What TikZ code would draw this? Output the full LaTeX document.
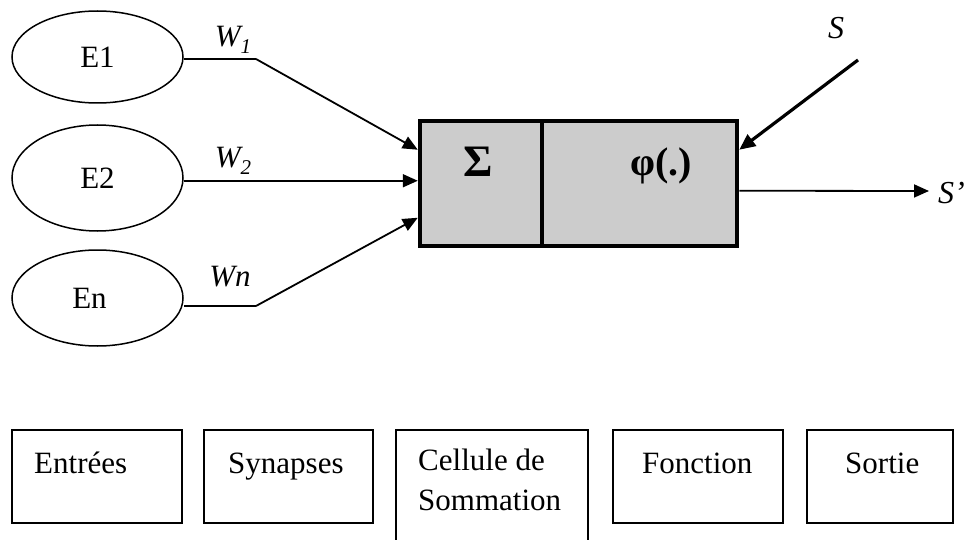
\documentclass[tikz,border=0pt]{standalone}
\usepackage{fontspec}
\setmainfont{Liberation Serif}
\usetikzlibrary{arrows.meta,shapes.geometric,calc}
\begin{document}
\begin{tikzpicture}[x=1pt,y=-1pt,
  inp/.style={draw,line width=1.5pt,ellipse,inner sep=0pt,minimum width=171pt,font=\fontsize{31}{36}\selectfont},
  cell/.style={draw,line width=4.5pt,fill=black!20,inner sep=0pt,minimum height=125pt},
  wire/.style={line width=1.8pt,-{Triangle[length=15pt,width=13pt]}},
  plain/.style={line width=1.8pt},
  heavy/.style={line width=3.2pt,-{Triangle[length=16pt,width=14pt]}},
  wlab/.style={font=\fontsize{31}{36}\selectfont\itshape,inner sep=0pt},
  big/.style={font=\fontsize{40}{46}\selectfont\bfseries,inner sep=0pt},
  legbox/.style={draw,line width=1.5pt,inner sep=0pt,minimum height=93pt},
  legtxt/.style={font=\fontsize{31}{40}\selectfont,inner sep=0pt,anchor=base west,align=left}]
\useasboundingbox (0,0) rectangle (969,540);
% inputs
\node[inp,minimum height=92pt]  (e1) at (97.5,57)  {E1};
\node[inp,minimum height=106pt] (e2) at (97.5,178) {E2};
\node[inp,minimum height=96pt]  (en) at (97.5,298) {\hspace*{-16pt}En};
% neuron cell
\node[cell,minimum width=122pt] (sum) at (481,183.5) {};
\node[cell,minimum width=195pt] (phi) at (639.5,183.5) {};
\node[big,font=\fontsize{45}{50}\selectfont\bfseries] (sigt) at (478,162) {Σ};
\node[big] (phit) at (661,166) {φ(.)};
% connector points
\coordinate (t1) at ($(sum.north west)+(0,31)$);
\coordinate (t2) at ($(sum.north west)+(0,62)$);
\coordinate (t3) at ($(sum.north west)+(0,99)$);
\coordinate (b1) at (256,59);
\coordinate (b3) at (256,306);
\coordinate (s0) at (858,60);
\coordinate (so) at (929,191);
\coordinate (pe) at ($(phi.north east)+(0,72)$);
% connectors
\draw[plain] (e1.east |- b1) -- (b1);
\draw[wire] (b1) -- (t1);
\draw[wire] (e2.east |- t2) -- (t2);
\draw[plain] (en.east |- b3) -- (b3);
\draw[wire] (b3) -- (t3);
\draw[heavy] (s0) -- ($(phi.north east)+(0,31)$);
\draw[wire] (pe) -- (so);
% weight labels
\node[wlab] (w1) at (233,40) {W\raisebox{-7pt}{\fontsize{21}{21}\selectfont\itshape 1}};
\node[wlab] (w2) at (233,161) {W\raisebox{-7pt}{\fontsize{21}{21}\selectfont\itshape 2}};
\node[wlab] (wn) at (230,277) {Wn};
\node[wlab,font=\fontsize{32}{36}\selectfont\itshape] (sl) at (836,28) {S};
\node[wlab,font=\fontsize{32}{36}\selectfont\itshape,anchor=west] (spl) at (938,193) {S’};
% legend boxes
\node[legbox,minimum width=170pt] (l1) at (97,476.5) {};
\node[legbox,minimum width=169pt] (l2) at (288.5,476.5) {};
\node[legbox,minimum width=192pt,minimum height=130pt] (l3) at (492,495) {};
\node[legbox,minimum width=170pt] (l4) at (698,476.5) {};
\node[legbox,minimum width=146pt] (l5) at (880,476.5) {};
\node[legtxt] (x1) at (34,473) {Entrées};
\node[legtxt] (x2) at (228,473) {Synapses};
\node[legtxt] (x3) at (418,510) {Cellule de\\Sommation};
\node[legtxt] (x4) at (642,473) {Fonction};
\node[legtxt] (x5) at (845,473) {Sortie};
\end{tikzpicture}
\end{document}
